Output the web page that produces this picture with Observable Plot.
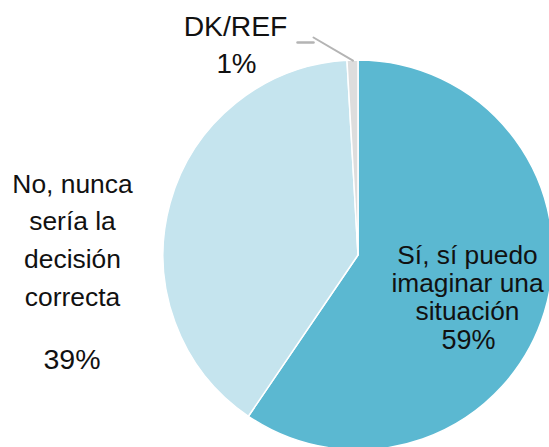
<!DOCTYPE html>
<html><head><meta charset="utf-8">
<script src="https://cdn.jsdelivr.net/npm/d3@7"></script>
<script src="https://cdn.jsdelivr.net/npm/@observablehq/plot@0.6"></script>
<style>body{margin:0;background:#fff;overflow:hidden}</style>
</head><body><div id="chart"></div>
<script>
// ---- data ----
const categories = ["Sí", "No", "DK/REF"];
const values = [59.5, 39.6, 0.9];
const labelLines = [
  ["Sí, sí puedo", "imaginar una", "situación"],
  ["No, nunca", "sería la", "decisión", "correcta"],
  ["DK/REF"]
];
const valueLabels = ["59%", "39%", "1%"];
const colors = ["#5bb8d1", "#c5e4ee", "#dddddd"];

// ---- layout (pixels) ----
const W = 549, H = 447;
const CX = 358, CY = 255, R = 195;
const font = "'Liberation Sans', Arial, sans-serif";

const data = categories.map((c, i) => ({category: c, value: values[i], color: colors[i]}));
const arcs = d3.pie().sort(null).value(d => d.value)(data);

// data units: radius = 1, origin = pie centre, y up
const xDomain = [-CX / R, (W - CX) / R];
const yDomain = [-(H - CY) / R, CY / R];

function px(x) { return (x - CX) / R; }
function py(y) { return (CY - y) / R; }
const textRows = [];
// Sí
labelLines[0].forEach((t, k) => textRows.push({t, x: px(467), y: py(263 + 28 * k), s: 26.3}));
textRows.push({t: valueLabels[0], x: px(468), y: py(348), s: 27});
// No
labelLines[1].forEach((t, k) => textRows.push({t, x: px(72), y: py(192 + 37.7 * k), s: 26.4}));
textRows.push({t: valueLabels[1], x: px(71.5), y: py(368), s: 28.5});
// DK
textRows.push({t: labelLines[2][0], x: px(235), y: py(35), s: 28.3});
textRows.push({t: valueLabels[2], x: px(236), y: py(72), s: 27.8});

// leader line from DK slice outer mid-point
const dk = arcs[2];
const mid = (dk.startAngle + dk.endAngle) / 2;
const p0 = {x: Math.sin(mid), y: Math.cos(mid)};
const leader = [p0, {x: px(313), y: py(37)}];
const dash = [{x: px(297), y: py(42)}, {x: px(313), y: py(42)}];

function pieMark(index, scales) {
  const sx = scales.x, sy = scales.y;
  const cx = sx(0), cy = sy(0), r = sx(1) - sx(0);
  const arc = d3.arc().innerRadius(0).outerRadius(r);
  const g = d3.create("svg:g").attr("transform", `translate(${cx},${cy})`);
  g.selectAll("path").data(arcs).join("path")
    .attr("d", arc)
    .attr("fill", d => d.data.color)
    .attr("stroke", "#ffffff")
    .attr("stroke-width", 1.5)
    .attr("stroke-linejoin", "round");
  return g.node();
}

const chart = Plot.plot({
  width: W, height: H,
  margin: 0,
  x: {domain: xDomain, range: [0, W], axis: null},
  y: {domain: yDomain, range: [H, 0], axis: null},
  style: {fontFamily: font, background: "#fff"},
  marks: [
    pieMark,
    Plot.line(leader, {x: "x", y: "y", stroke: "#b4b4b4", strokeWidth: 2}),
    Plot.line(dash, {x: "x", y: "y", stroke: "#b4b4b4", strokeWidth: 2.5}),
    Plot.text(textRows, {x: "x", y: "y", text: "t", fontSize: d => d.s, fill: "#111", textAnchor: "middle", lineAnchor: "bottom", fontFamily: font})
  ]
});
document.getElementById("chart").appendChild(chart);
</script>
</body></html>
